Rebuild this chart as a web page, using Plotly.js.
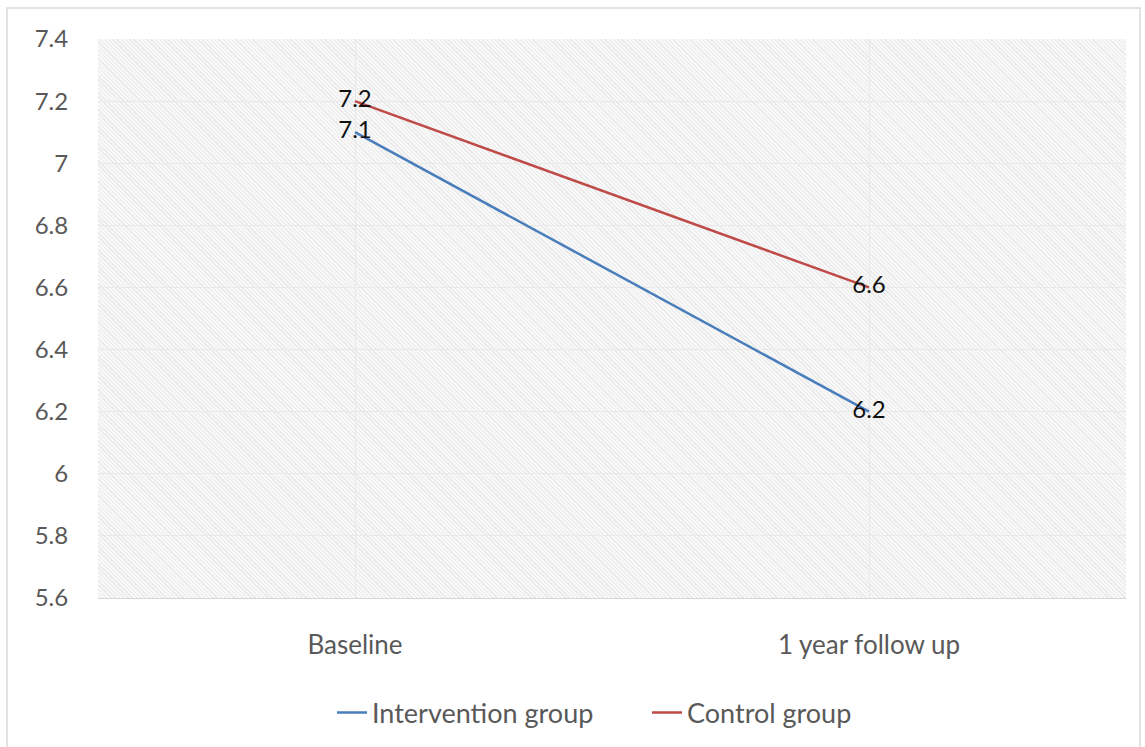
<!DOCTYPE html>
<html>
<head>
<meta charset="utf-8">
<script src="https://cdn.plot.ly/plotly-3.0.1.min.js"></script>
<style>
  html, body { margin: 0; padding: 0; background: #ffffff; }
  #wrap { position: relative; width: 1145px; height: 747px; }
  /* fine diagonal hatch behind the plotting area */
  #hatch {
    position: absolute; left: 98px; top: 39px; width: 1028px; height: 559px;
    background: repeating-linear-gradient(45deg, #e9e9e9 0px, #e9e9e9 1px, #f8f8f8 1px, #f8f8f8 3px);
  }
  #chart { position: absolute; left: 0; top: 0; width: 1145px; height: 747px; }
</style>
</head>
<body>
<div id="wrap">
  <div id="hatch"></div>
  <div id="chart"></div>
</div>
<script>
// Time points on the category axis
const timepoints = ["Baseline", "1 year follow up"];

// Mean values for each group
const interventionGroup = [7.1, 6.2];
const controlGroup = [7.2, 6.6];

// Value axis ticks
const yTickValues = [5.6, 5.8, 6, 6.2, 6.4, 6.6, 6.8, 7, 7.2, 7.4];

const FONT = "Lato, 'Open Sans', sans-serif";

const traces = [
  {
    name: "Intervention group",
    x: timepoints,
    y: interventionGroup,
    type: "scatter",
    mode: "lines+text",
    line: { color: "#4A7EBB", width: 2.5 },
    text: interventionGroup.map(v => v.toFixed(1)),
    textposition: "middle center",
    textfont: { family: FONT, size: 24, color: "#111111" },
    cliponaxis: false,
    hoverinfo: "skip"
  },
  {
    name: "Control group",
    x: timepoints,
    y: controlGroup,
    type: "scatter",
    mode: "lines+text",
    line: { color: "#BE4B48", width: 2.5 },
    text: controlGroup.map(v => v.toFixed(1)),
    textposition: "middle center",
    textfont: { family: FONT, size: 24, color: "#111111" },
    cliponaxis: false,
    hoverinfo: "skip"
  }
];

// pixel geometry of the plotting area
const L = 98, R = 19, T = 39, B = 149;
const W = 1145 - L - R, H = 747 - T - B;
const px = x => (x - L) / W;
const py = y => (T + H - y) / H;

const layout = {
  width: 1145,
  height: 747,
  margin: { l: L, r: R, t: T, b: B, pad: 0, autoexpand: false },
  paper_bgcolor: "rgba(0,0,0,0)",
  plot_bgcolor: "rgba(0,0,0,0)",
  font: { family: FONT, size: 24, color: "#595959" },
  showlegend: true,
  legend: {
    orientation: "h",
    x: px(332), xanchor: "left",
    y: py(713), yanchor: "middle",
    font: { family: FONT, size: 27, color: "#595959" },
    bgcolor: "rgba(0,0,0,0)",
    entrywidth: 270,
    tracegroupgap: 0
  },
  xaxis: {
    type: "category",
    categoryorder: "array",
    categoryarray: timepoints,
    range: [-0.5, 1.5],
    showgrid: true,
    gridcolor: "#e9e9e9",
    gridwidth: 1,
    showline: true,
    linecolor: "#d6d6d6",
    linewidth: 1,
    ticks: "outside",
    ticklen: 24,
    tickcolor: "rgba(0,0,0,0)",
    tickfont: { family: FONT, size: 26, color: "#595959" },
    zeroline: false,
    fixedrange: true
  },
  yaxis: {
    range: [5.6, 7.4],
    tickmode: "array",
    tickvals: yTickValues,
    ticktext: yTickValues.map(v => String(v)),
    showgrid: true,
    gridcolor: "#e9e9e9",
    gridwidth: 1,
    showline: false,
    zeroline: false,
    ticks: "outside",
    ticklen: 24,
    tickcolor: "rgba(0,0,0,0)",
    tickfont: { family: FONT, size: 24, color: "#595959" },
    fixedrange: true
  },
  shapes: [
    {
      type: "rect",
      xref: "paper", yref: "paper",
      x0: px(7), x1: px(1140),
      y0: py(748), y1: py(8),
      line: { color: "#d9d9d9", width: 1.5 },
      fillcolor: "rgba(0,0,0,0)",
      layer: "below"
    }
  ]
};

Plotly.newPlot("chart", traces, layout, { displayModeBar: false, staticPlot: true });
</script>
</body>
</html>
